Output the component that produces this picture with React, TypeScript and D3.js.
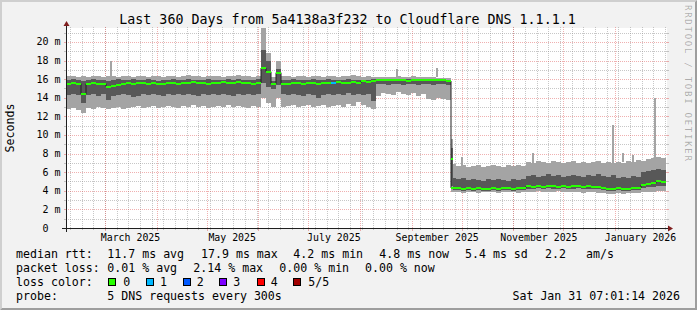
import React from 'react';
import * as d3 from 'd3';

// ---------- data ----------
const END = Date.UTC(2026, 0, 31, 7, 1, 14);
const DAY = 86400000;
const START = END - 360 * DAY;
const BUCKET_DAYS = 3;

// Segment before the drop (Feb - end of Aug 2025), 3-day buckets, ms
const p5A = [16.3,16.3,16.2,16.3,16.2,16.3,16.3,16.2,16.3,16.3, 16.2,16.3,16.3,16.2,16.3,16.3,16.2,16.3,16.3,16.2, 16.3,16.3,16.2,16.3,16.4,16.3,16.3,16.2,16.3,16.3, 16.3,16.2,16.3,16.3,16.4,16.3,16.3,16.2,16.3,21.5, 18.8,16.2,17.9,16.3,16.3,16.2,16.3,16.3,16.2,16.3, 16.3,16.2,16.3,16.3,16.2,16.3,16.3,16.4,16.3,16.2, 16.3,16.2,16.2,16.2,16.2,16.2,16.3,16.2,16.2,16.3, 16.2,16.2,16.2,16.2,16.1,16.1,16.1];
const p4A = [15.9,16.0,15.9,15.8,15.9,16.0,15.9,15.9,15.8,15.9, 16.0,15.9,15.9,16.0,15.9,15.9,16.0,15.9,15.8,15.9, 15.9,16.0,15.9,15.9,16.0,15.9,15.9,15.9,16.0,15.9, 15.9,15.9,16.0,15.9,16.0,15.9,15.9,15.9,16.0,19.1, 18.0,15.8,17.1,15.9,15.9,16.0,15.9,15.9,15.9,16.0, 15.9,15.9,16.0,15.9,15.9,15.9,16.0,15.9,15.9,15.9, 15.9,16.0,16.0,16.0,16.0,16.0,16.0,16.0,16.0,16.0, 16.0,16.0,16.0,16.0,16.0,15.9,15.9];
const medA = [15.5,15.6,15.5,14.4,15.5,15.6,15.5,15.5,15.2,15.3, 15.4,15.5,15.6,15.5,15.6,15.6,15.5,15.6,15.5,15.5, 15.6,15.6,15.5,15.6,15.6,15.7,15.6,15.6,15.5,15.6, 15.6,15.7,15.6,15.6,15.7,15.6,15.6,15.5,15.6,17.2, 16.8,15.5,16.7,15.5,15.5,15.6,15.6,15.5,15.6,15.6, 15.5,15.6,15.6,15.6,15.7,15.6,15.6,15.7,15.6,15.8, 15.7,15.8,15.9,15.9,15.9,15.9,15.9,15.9,15.8,15.9, 15.9,15.9,15.9,15.9,15.9,15.9,15.8];
const p2A = [14.3,14.4,14.3,13.4,14.3,14.4,14.2,14.4,13.8,14.2, 14.3,14.4,14.3,14.1,14.2,14.4,14.3,14.4,14.3,14.2, 14.4,14.3,14.4,14.3,14.4,14.3,14.2,14.4,14.3,14.4, 14.3,14.4,14.3,14.2,14.4,14.3,14.4,14.3,14.4,15.6, 15.2,14.9,15.4,14.4,14.3,14.4,14.3,14.2,14.4,14.3, 14.0,14.3,14.4,14.3,14.4,14.3,14.5,14.3,14.4,14.3, 14.4,13.6,15.5,15.5,15.4,15.5,15.5,15.4,15.5,15.5, 15.4,15.5,15.5,15.4,15.5,15.5,15.4];
const p1A = [12.8,12.9,12.7,12.4,12.9,12.8,13.0,12.9,12.8,12.9, 13.0,12.8,12.9,13.0,13.1,12.9,13.0,13.1,12.9,13.0, 13.1,13.0,12.9,13.1,13.0,13.2,13.0,13.1,12.9,13.0, 13.1,13.0,13.2,13.0,13.1,13.0,12.9,13.1,13.0,14.0, 13.4,13.0,14.0,13.0,13.1,13.2,13.0,13.1,13.2,13.0, 13.1,13.2,13.0,13.1,13.2,13.0,13.3,13.1,13.5,13.2, 13.0,12.8,14.2,14.5,14.4,14.3,14.6,14.4,14.3,14.5, 14.2,14.4,13.9,13.8,14.0,13.9,13.8];

// Segment after the drop (end of Aug 2025 - Jan 2026)
const p5B = [6.9,6.7,6.8,6.6,6.7,6.8,6.6,6.7,6.8,6.7, 6.6,6.8,6.7,6.8,6.7,7.1,7.0,7.2,7.1,7.0, 7.2,7.1,7.0,7.1,7.2,7.0,7.1,7.0,7.1,7.2, 7.0,7.1,7.0,7.1,7.0,7.2,7.1,7.3,7.2,7.4, 7.5,7.6,7.5];
const p4B = [5.4,5.3,5.4,5.2,5.3,5.2,5.1,5.3,5.2,5.3, 5.2,5.1,5.3,5.2,5.3,5.6,5.7,5.5,5.6,5.8, 5.6,5.7,5.5,5.6,5.7,5.6,5.5,5.7,5.6,5.8, 5.6,5.5,5.7,5.4,5.5,5.4,5.6,5.5,6.0,6.1, 6.2,6.3,6.2];
const medB = [4.3,4.3,4.2,4.3,4.2,4.3,4.2,4.2,4.3,4.2, 4.3,4.3,4.2,4.3,4.3,4.5,4.4,4.5,4.4,4.5, 4.5,4.4,4.5,4.4,4.5,4.5,4.4,4.5,4.4,4.4, 4.3,4.2,4.2,4.3,4.2,4.2,4.3,4.3,4.6,4.7, 4.8,5.0,4.9];
const p2B = [4.1,4.1,4.0,4.1,4.0,4.1,4.0,4.0,4.1,4.0, 4.1,4.1,4.0,4.1,4.1,4.2,4.2,4.3,4.2,4.3, 4.2,4.2,4.3,4.2,4.2,4.3,4.2,4.2,4.2,4.2, 4.1,4.0,4.0,4.1,4.0,4.0,4.1,4.1,4.3,4.4, 4.4,4.5,4.5];
const p1B = [3.9,3.9,3.8,3.9,3.9,3.8,3.9,3.9,3.9,3.8, 3.9,3.9,3.9,3.8,3.9,3.9,3.9,4.0,3.9,3.9, 3.9,4.0,3.9,3.9,3.9,3.9,3.8,3.9,3.9,3.8, 3.8,3.7,3.7,3.8,3.7,3.8,3.8,3.8,3.9,3.9, 3.9,4.0,4.0];

// bucket index -> loss count (others 0)
const lossEvents = [[53, 1]];

// narrow single-day outliers (day offset from start, low, high in ms)
const spikeDay = [26.4, 197.8, 222.0, 236.8, 279.4, 327.8, 333.8, 339.4, 352.8];
const spikeLo = [16.2, 16.2, 16.2, 6.7, 7.0, 7.0, 7.1, 7.1, 7.4];
const spikeHi = [18.0, 17.1, 17.2, 7.6, 8.1, 11.1, 8.1, 7.8, 14.0];

// transition day at the drop
const transDay = 231.0;
const transVals = { p1: 4.1, p2: 4.5, med: 7.4, p4: 8.6, p5: 9.6 };

const yMajor = [2, 4, 6, 8, 10, 12, 14, 16, 18, 20];
const yMinor = [1, 3, 5, 7, 9, 11, 13, 15, 17, 19, 21];
const yTickLabels = ['2 m', '4 m', '6 m', '8 m', '10 m', '12 m', '14 m', '16 m', '18 m', '20 m'];
const xLabelMonths = [[2025, 2], [2025, 4], [2025, 6], [2025, 8], [2025, 10], [2026, 0]];

const lossColors = ['#26ff00', '#00b8ff', '#0059ff', '#7e00ff', '#ff0000', '#a10000'];
const lossLabels = ['0', '1', '2', '3', '4', '5/5'];

const legendRtt = [[16, 'median rtt:'], [107.3, '11.7 ms avg'], [201, '17.9 ms max'], [293.3, '4.2 ms min'], [379.3, '4.8 ms now'], [465, '5.4 ms sd'], [545, '2.2'], [586, 'am/s']];
const legendLoss = [[16, 'packet loss:'], [107.3, '0.01 % avg'], [193.3, '2.14 % max'], [279.3, '0.00 % min'], [365, '0.00 % now']];
const boxX = [108.3, 145.7, 182.7, 219.3, 256.7, 293.3];
const boxLabelX = [123.3, 160, 196.7, 233.3, 270.7, 308.3];

const TITLE = 'Last 360 Days from 5a4138a3f232 to Cloudflare DNS 1.1.1.1';
const STAMP = 'Sat Jan 31 07:01:14 2026';

// ---------- layout ----------
const W = 697, H = 310;
const X0 = 66, X1 = 666, Y0 = 228, Y1 = 28;
const Y_MAX = 21.5;
const MONO = "'DejaVu Sans Mono', monospace";

export default function App() {
  const p1 = [...p1A, ...p1B];
  const p2 = [...p2A, ...p2B];
  const med = [...medA, ...medB];
  const p4 = [...p4A, ...p4B];
  const p5 = [...p5A, ...p5B];
  const n = med.length;
  const loss = med.map(() => 0);
  lossEvents.forEach(([i, l]) => { loss[i] = l; });

  const x = d3.scaleTime().domain([new Date(START), new Date(END)]).range([X0, X1]);
  const y = d3.scaleLinear().domain([0, Y_MAX]).range([Y0, Y1]);
  const tAt = (i: number) => new Date(START + i * BUCKET_DAYS * DAY);

  const pts = d3.range(n + 1).map((i) => {
    const k = Math.min(i, n - 1);
    return { t: i === n ? new Date(END) : tAt(i), p1: p1[k], p2: p2[k], med: med[k], p4: p4[k], p5: p5[k] };
  });

  const outer = d3.area<any>().x((d) => x(d.t)).y0((d) => y(d.p1)).y1((d) => y(d.p5)).curve(d3.curveStepAfter);
  const inner = d3.area<any>().x((d) => x(d.t)).y0((d) => y(d.p2)).y1((d) => y(d.p4)).curve(d3.curveStepAfter);
  const medLine = d3.line<any>().x((d) => x(d.t)).y((d) => y(d.med)).curve(d3.curveStepAfter);

  const months = d3.utcMonth.range(new Date(START), new Date(END));
  const weeks = d3.utcSaturday.range(new Date(START), new Date(END));
  const crispY = (v: number) => Math.round(v) + 0.5;
  const crispX = (v: number) => Math.floor(v) + 0.5;

  const gridMinor = 'rgba(143,143,143,0.5)';
  const gridMajor = 'rgba(222,79,79,0.45)';

  const dayX = (d: number) => x(new Date(START + d * DAY));

  return (
    <svg width={W} height={H} viewBox={`0 0 ${W} ${H}`} style={{ position: 'absolute', left: 0, top: 0 }} fontFamily={MONO}>
      <rect x={0} y={0} width={W} height={H} fill="#f2f2f2" />
      {/* 3D frame */}
      <polygon points={`0,0 ${W},0 ${W - 2},2 2,2 2,${H - 2} 0,${H}`} fill="#cfcfcf" />
      <polygon points={`${W},0 ${W},${H} 0,${H} 2,${H - 2} ${W - 2},${H - 2} ${W - 2},2`} fill="#9e9e9e" />

      {/* canvas */}
      <rect x={X0} y={Y1} width={X1 - X0 + 1} height={Y0 - Y1} fill="#ffffff" />

      {/* grid */}
      <g shapeRendering="crispEdges" strokeWidth={1}>
        {yMinor.map((v) => (
          <g key={'ym' + v} stroke={gridMinor}>
            <line x1={X0} x2={X1 + 1} y1={crispY(y(v))} y2={crispY(y(v))} strokeDasharray="1,1" />
            <line x1={X0 - 2} x2={X0} y1={crispY(y(v))} y2={crispY(y(v))} />
            <line x1={X1 + 1} x2={X1 + 3} y1={crispY(y(v))} y2={crispY(y(v))} />
          </g>
        ))}
        {weeks.map((w, i) => (
          <g key={'xw' + i} stroke={gridMinor}>
            <line x1={crispX(x(w))} x2={crispX(x(w))} y1={Y1 - 1} y2={Y0 + 1} strokeDasharray="1,1" />
            <line x1={crispX(x(w))} x2={crispX(x(w))} y1={Y0} y2={Y0 + 2} />
          </g>
        ))}
        {yMajor.map((v) => (
          <g key={'yM' + v} stroke={gridMajor}>
            <line x1={X0} x2={X1 + 1} y1={crispY(y(v))} y2={crispY(y(v))} strokeDasharray="1,1" />
            <line x1={X0 - 2} x2={X0} y1={crispY(y(v))} y2={crispY(y(v))} />
            <line x1={X1 + 1} x2={X1 + 3} y1={crispY(y(v))} y2={crispY(y(v))} />
          </g>
        ))}
        {months.map((m, i) => (
          <g key={'xM' + i} stroke={gridMajor}>
            <line x1={crispX(x(m))} x2={crispX(x(m))} y1={Y1 - 1} y2={Y0 + 1} strokeDasharray="1,1" />
            <line x1={crispX(x(m))} x2={crispX(x(m))} y1={Y0} y2={Y0 + 3} />
          </g>
        ))}
      </g>

      {/* smoke */}
      <g shapeRendering="crispEdges">
        <path d={outer(pts) || ''} fill="#a4a4a4" />
        <path d={inner(pts) || ''} fill="#585858" />
        {spikeDay.map((d, i) => (
          <rect key={'s' + i} x={dayX(d)} width={Math.max(1, dayX(d + 1.2) - dayX(d))} y={y(spikeHi[i])} height={y(spikeLo[i]) - y(spikeHi[i])} fill="#a4a4a4" />
        ))}
        <rect x={dayX(transDay)} width={dayX(transDay + 1.2) - dayX(transDay)} y={y(transVals.p5)} height={y(transVals.p1) - y(transVals.p5)} fill="#a4a4a4" />
        <rect x={dayX(transDay)} width={dayX(transDay + 1.2) - dayX(transDay)} y={y(transVals.p4)} height={y(transVals.p2) - y(transVals.p4)} fill="#585858" />
      </g>

      {/* median */}
      <path d={medLine(pts) || ''} fill="none" stroke="#202020" strokeWidth={1} />
      <g shapeRendering="crispEdges">
        {med.map((m, i) => (
          <rect key={'m' + i} x={x(tAt(i))} width={x(tAt(i + 1)) - x(tAt(i))} y={y(m) - 1} height={2} fill={lossColors[loss[i]]} />
        ))}
        <rect x={dayX(transDay)} width={dayX(transDay + 1.2) - dayX(transDay)} y={y(transVals.med) - 1} height={2} fill={lossColors[0]} />
      </g>

      {/* axes */}
      <g shapeRendering="crispEdges" stroke="#1f1f1f" strokeWidth={1}>
        <line x1={X0 - 4} x2={X1 + 5} y1={Y0 + 0.5} y2={Y0 + 0.5} />
        <line x1={X0 + 0.5} x2={X0 + 0.5} y1={Y0 + 4} y2={Y1 - 4} />
      </g>
      <polygon points={`${X1 + 2},${Y0 - 2.5} ${X1 + 2},${Y0 + 3.5} ${X1 + 7},${Y0 + 0.5}`} fill="#801f1f" />
      <polygon points={`${X0 - 2.5},${Y1 - 2} ${X0 + 3.5},${Y1 - 2} ${X0 + 0.5},${Y1 - 7}`} fill="#801f1f" />

      {/* y labels */}
      <g fontSize={10} fill="#000">
        {yMajor.map((v, i) => (
          <text key={'yl' + v} x={60.5} y={y(v)} dy="0.35em" textAnchor="end">{yTickLabels[i]}</text>
        ))}
        <text x={48.5} y={y(0)} dy="0.35em" textAnchor="end">0</text>
      </g>

      {/* x labels */}
      <g fontSize={9.9} fill="#000">
        {xLabelMonths.map(([yy, mm]) => {
          const d = new Date(Date.UTC(yy, mm, 1));
          const xc = x(new Date(d.getTime() + 15 * DAY));
          return <text key={'xl' + yy + mm} x={xc} y={240.5} textAnchor="middle">{d3.utcFormat('%B %Y')(d)}</text>;
        })}
      </g>

      {/* title */}
      <text x={347.5} y={23.5} fontSize={13.3} textAnchor="middle" fill="#000">{TITLE}</text>

      {/* y axis title */}
      <text transform="translate(14,128) rotate(-90)" fontSize={11.6} textAnchor="middle" fill="#000">Seconds</text>

      {/* watermark */}
      <text transform="translate(685,5) rotate(90)" fontSize={9} letterSpacing={1.75} fill="rgba(0,0,0,0.3)">RRDTOOL / TOBI OETIKER</text>

      {/* legend */}
      <g fontSize={11.6} fill="#000">
        {legendRtt.map(([lx, s], i) => <text key={'r' + i} x={lx as number} y={257.5}>{s}</text>)}
        {legendLoss.map(([lx, s], i) => <text key={'l' + i} x={lx as number} y={271.7}>{s}</text>)}
        <text x={16} y={285.7}>loss color:</text>
        {lossColors.map((c, i) => (
          <g key={'b' + i}>
            <rect x={Math.round(boxX[i]) + 0.5} y={278.5} width={7} height={7} fill={c} stroke="#000" strokeWidth={1} shapeRendering="crispEdges" />
            <text x={boxLabelX[i]} y={285.7}>{lossLabels[i]}</text>
          </g>
        ))}
        <text x={16} y={299.5}>probe:</text>
        <text x={107.3} y={299.5}>5 DNS requests every 300s</text>
        <text x={680} y={299.5} textAnchor="end">{STAMP}</text>
      </g>
    </svg>
  );
}
